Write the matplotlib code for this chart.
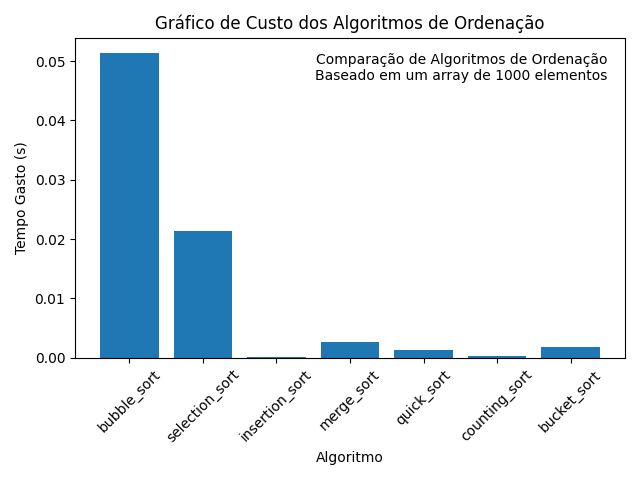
import matplotlib
matplotlib.use("Agg")
import matplotlib.pyplot as plt

algoritmos = ["bubble_sort", "selection_sort", "insertion_sort", "merge_sort",
              "quick_sort", "counting_sort", "bucket_sort"]
tempos = [0.05135, 0.0213, 0.00015, 0.0026, 0.00127, 0.0003, 0.0018]

fig = plt.figure(figsize=(6.4, 4.8), dpi=100)
plt.bar(algoritmos, tempos)
plt.title("Gráfico de Custo dos Algoritmos de Ordenação")
plt.xlabel("Algoritmo")
plt.ylabel("Tempo Gasto (s)")
plt.xticks(rotation=45)
plt.text(0.968, 0.953, "Comparação de Algoritmos de Ordenação\nBaseado em um array de 1000 elementos",
         transform=plt.gca().transAxes, ha="right", va="top")
plt.tight_layout()
plt.savefig("out.png")
